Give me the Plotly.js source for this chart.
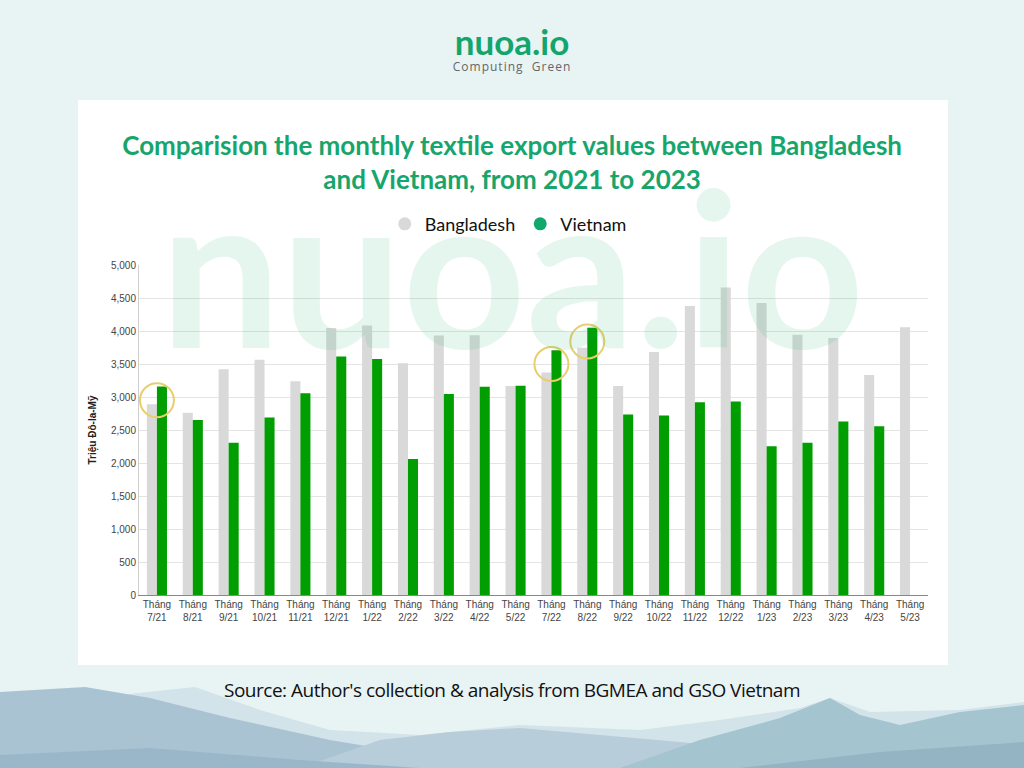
<!DOCTYPE html>
<html>
<head>
<meta charset="utf-8">
<script src="https://cdn.plot.ly/plotly-3.0.1.min.js"></script>
<style>
  html, body { margin: 0; padding: 0; }
  body {
    width: 1024px; height: 768px; overflow: hidden; position: relative;
    background: #e8f3f4; font-family: Lato, 'Open Sans', sans-serif;
  }
  #hills { position: absolute; left: 0; top: 680px; width: 1024px; height: 88px; }
  .logo {
    position: absolute; top: 22px; left: 0; width: 1024px; text-align: center;
  }
  .logo .name { font: bold 35px Lato, sans-serif; color: #14a56c; line-height: 38px; }
  .logo .sub  { font: 12px 'Open Sans', sans-serif; color: #666; letter-spacing: 1px; margin-top: -2px; }
  #panel {
    position: absolute; left: 78px; top: 100px; width: 870px; height: 565px; background: #fff;
  }
  #chart { width: 870px; height: 565px; }
  .source {
    position: absolute; top: 677px; left: 0; width: 1024px; text-align: center;
    font: 19px 'Open Sans', sans-serif; color: #111; letter-spacing: -0.5px;
  }
</style>
</head>
<body>

<svg id="hills" viewBox="0 0 1024 88" preserveAspectRatio="none">
  <polygon fill="#d2e3e9" points="0,30 120,15 195,7 260,30 330,50 420,55 520,45 640,50 720,40 800,28 830,18 870,32 960,30 1024,22 1024,88 0,88"/>
  <polygon fill="#aac3d2" points="0,12 85,7 150,18 230,38 330,60 420,75 440,88 0,88"/>
  <polygon fill="#b7cdd9" points="300,88 380,60 450,52 520,48 600,55 680,62 760,70 800,88"/>
  <polygon fill="#a4c4cf" points="620,88 700,60 780,38 830,18 860,35 900,45 960,32 1024,25 1024,88"/>
  <polygon fill="#9ab7ca" points="0,75 150,68 300,80 420,88 0,88"/>
  <polygon fill="#94b4c4" points="740,88 880,72 1024,62 1024,88"/>
</svg>

<div class="logo">
  <div class="name">nuoa.io</div>
  <div class="sub">Computing&nbsp;&nbsp;Green</div>
</div>

<div id="panel"><div id="chart"></div></div>

<div class="source">Source: Author's collection &amp; analysis from BGMEA and GSO Vietnam</div>

<script>
'use strict';

/* ============================================================
   DATA – monthly textile export values (million USD)
   ============================================================ */
var months = ['7/21', '8/21', '9/21', '10/21', '11/21', '12/21', '1/22', '2/22', '3/22',
              '4/22', '5/22', '7/22', '8/22', '9/22', '10/22', '11/22', '12/22', '1/23',
              '2/23', '3/23', '4/23', '5/23'];
var bangladesh = [2890, 2760, 3420, 3565, 3240, 4045, 4085, 3510, 3930,
                  3935, 3165, 3370, 3745, 3165, 3680, 4380, 4660, 4425,
                  3945, 3895, 3335, 4055];
var vietnam    = [3160, 2650, 2305, 2690, 3055, 3615, 3575, 2060, 3045,
                  3155, 3170, 3710, 4050, 2735, 2720, 2920, 2930, 2255,
                  2305, 2630, 2555, null];
var highlighted = ['7/21', '7/22', '8/22'];   // circled on the original slide
var tickLabels  = months.map(function (m) { return 'Tháng<br>' + m; });

var GREEN_TITLE = '#17a56c';
var GRAY_BAR    = '#d9d9d9';
var GREEN_BAR   = '#009e00';

/* ============================================================
   CHART
   ============================================================ */
function initChart() {
  var idx = months.map(function (_, i) { return i; });

  var traces = [
    { x: idx, y: bangladesh, type: 'bar', name: 'Bangladesh', showlegend: false,
      marker: { color: GRAY_BAR }, hoverinfo: 'y' },
    { x: idx, y: vietnam, type: 'bar', name: 'Vietnam', showlegend: false,
      marker: { color: GREEN_BAR }, hoverinfo: 'y' },
    /* legend-only entries with round markers */
    { x: [null], y: [null], type: 'scatter', mode: 'markers', name: 'Bangladesh',
      marker: { color: GRAY_BAR, size: 13, symbol: 'circle' } },
    { x: [null], y: [null], type: 'scatter', mode: 'markers', name: 'Vietnam',
      marker: { color: '#11a86c', size: 13, symbol: 'circle' } }
  ];

  /* yellow rings around highlighted Vietnam bars */
  var shapes = highlighted.map(function (m) {
    var i = months.indexOf(m);
    return {
      type: 'circle', xref: 'x', yref: 'y',
      xsizemode: 'pixel', ysizemode: 'pixel',
      xanchor: i, yanchor: vietnam[i] - 210,
      x0: -17, x1: 17, y0: -17, y1: 17,
      line: { color: '#e8cf6e', width: 2 }, layer: 'above'
    };
  });

  Plotly.newPlot('chart', traces, {
    width: 870, height: 565,
    font: { family: 'Liberation Sans, Arial, sans-serif', color: '#444' },
    paper_bgcolor: 'rgba(0,0,0,0)', plot_bgcolor: 'rgba(0,0,0,0)',
    margin: { t: 165, r: 20, b: 70, l: 61 },
    title: {
      text: 'Comparision the monthly textile export values between Bangladesh<br>and Vietnam, from 2021 to 2023',
      font: { family: 'Lato, sans-serif', size: 26, color: GREEN_TITLE, weight: 'bold' },
      x: 0.499, xanchor: 'center', y: 0.903, yanchor: 'middle', yref: 'container'
    },
    barmode: 'group', bargap: 0.44, bargroupgap: 0,
    xaxis: {
      type: 'linear', range: [-0.5, months.length - 0.5],
      tickmode: 'array', tickvals: idx, ticktext: tickLabels,
      showgrid: false, zeroline: false, ticks: '',
      showline: true, linecolor: '#888', linewidth: 1,
      tickfont: { size: 10, color: '#444' }
    },
    yaxis: {
      range: [0, 5000], dtick: 500, tickformat: ',d',
      gridcolor: '#e4e4e4', zeroline: false, ticks: '',
      showline: true, linecolor: '#d0d0d0',
      tickfont: { size: 10, color: '#444' },
      title: { text: 'Triệu Đô-la-Mỹ', standoff: 12,
               font: { size: 10, color: '#222', weight: 'bold' } }
    },
    legend: {
      orientation: 'h', x: 0.468, xanchor: 'center', y: 1.124, yanchor: 'middle',
      font: { family: 'Lato, sans-serif', size: 18, color: '#111' },
      itemwidth: 20, traceorder: 'normal'
    },
    shapes: shapes,
    annotations: [{
      text: '<b>nuoa.io</b>', showarrow: false,
      xref: 'paper', yref: 'paper', x: 0.473, y: 0.603, xanchor: 'center', yanchor: 'bottom',
      font: { family: 'Lato, sans-serif', size: 215, color: 'rgba(20,170,110,0.11)' }
    }],
    showlegend: true
  }, { displayModeBar: false, staticPlot: true });
}

initChart();
</script>
</body>
</html>
